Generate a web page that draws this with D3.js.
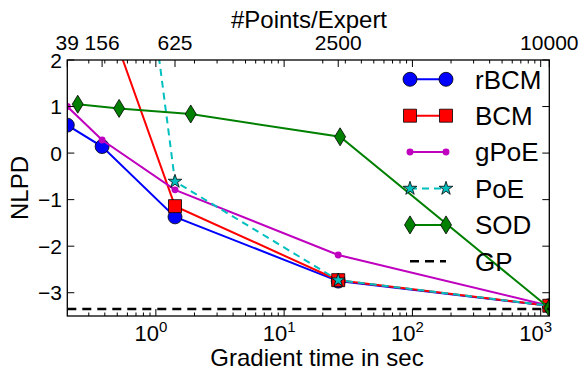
<!DOCTYPE html>
<html>
<head>
<meta charset="utf-8">
<script src="https://cdn.jsdelivr.net/npm/d3@7"></script>
<style>
  body { margin: 0; background: #fff; }
  svg text { font-family: "Liberation Sans", Arial, Helvetica, sans-serif; fill: #000; }
</style>
</head>
<body>
<div id="chart"></div>
<script>
// gradient time (sec) for each number of points per expert
const times = [0.204, 0.381, 1.41, 26.4, 1167];
const pointsPerExpert = [39, 156, 625, 2500, 10000];
const sodTimes = [0.246, 0.517, 1.87, 27.3, 1167];

const rbcm = [0.60, 0.14, -1.37, -2.75, -3.28];
const bcm = [7.0, 3.25, -1.14, -2.73, -3.28];
const gpoe = [1.0, 0.28, -0.79, -2.19, -3.28];
const poe = [20, 11.5, -0.61, -2.73, -3.28];
const sod = [1.05, 0.96, 0.84, 0.35, -3.33];
const gpValue = -3.35;

const yTicks = [2, 1, 0, -1, -2, -3];
const xDecades = [0, 1, 2, 3];

const width = 581, height = 372;
const mLeft = 67.3, mRight = 549.3, mTop = 60, mBottom = 316;

const svg = d3.select("#chart")
  .append("svg")
  .attr("width", width)
  .attr("height", height);

const x = d3.scaleLog().domain([times[0], times[4]]).range([mLeft, mRight]);
const y = d3.scaleLinear().domain([-3.5, 2]).range([mBottom, mTop]);

svg.append("clipPath").attr("id", "clip")
  .append("rect")
  .attr("x", mLeft).attr("y", mTop)
  .attr("width", mRight - mLeft).attr("height", mBottom - mTop);

// marker shapes
const diamond = "M0,-9L5.5,0L0,9L-5.5,0Z";
const series = [
  { name: "rBCM", t: times, v: rbcm, color: "#0000ff", marker: d3.symbol(d3.symbolCircle, 154)(), edge: true },
  { name: "BCM", t: times, v: bcm, color: "#ff0000", marker: d3.symbol(d3.symbolSquare, 169)(), edge: true },
  { name: "gPoE", t: times, v: gpoe, color: "#bf00bf", marker: d3.symbol(d3.symbolCircle, 38)(), edge: false },
  { name: "PoE", t: times, v: poe, color: "#00bfbf", marker: d3.symbol(d3.symbolStar, 58)(), edge: true, dash: "7,5" },
  { name: "SOD", t: sodTimes, v: sod, color: "#008000", marker: diamond, edge: true }
];

const plot = svg.append("g").attr("clip-path", "url(#clip)");
const line = d3.line().x(d => x(d[0])).y(d => y(d[1]));

series.forEach(s => {
  const pts = s.t.map((t, i) => [t, s.v[i]]);
  plot.append("path")
    .attr("d", line(pts))
    .attr("fill", "none")
    .attr("stroke", s.color)
    .attr("stroke-width", 2)
    .attr("stroke-dasharray", s.dash || null);
  plot.selectAll(null)
    .data(pts)
    .join("path")
    .attr("transform", d => `translate(${x(d[0])},${y(d[1])})`)
    .attr("d", s.marker)
    .attr("fill", s.color)
    .attr("stroke", s.edge ? "#000" : "none")
    .attr("stroke-width", 0.8);
});

// GP reference
plot.append("line")
  .attr("x1", mLeft).attr("x2", mRight)
  .attr("y1", y(gpValue)).attr("y2", y(gpValue))
  .attr("stroke", "#000")
  .attr("stroke-width", 2.5)
  .attr("stroke-dasharray", "9,6");

// frame
svg.append("rect")
  .attr("x", mLeft).attr("y", mTop)
  .attr("width", mRight - mLeft).attr("height", mBottom - mTop)
  .attr("fill", "none")
  .attr("stroke", "#000")
  .attr("stroke-width", 1.3);

// log minor ticks, mirrored on top
const minor = [];
for (let e = -1; e <= 3; e++) {
  for (let m = 2; m <= 9; m++) {
    const v = m * Math.pow(10, e);
    if (v > times[0] && v < times[4]) minor.push(v);
  }
}
const ticks = svg.append("g").attr("stroke", "#000").attr("stroke-width", 1);
minor.forEach(v => {
  ticks.append("line").attr("x1", x(v)).attr("x2", x(v)).attr("y1", mBottom).attr("y2", mBottom - 3.5);
  ticks.append("line").attr("x1", x(v)).attr("x2", x(v)).attr("y1", mTop).attr("y2", mTop + 3.5);
});
xDecades.forEach(d => {
  const px = x(Math.pow(10, d));
  ticks.append("line").attr("x1", px).attr("x2", px).attr("y1", mBottom).attr("y2", mBottom - 7);
  ticks.append("line").attr("x1", px).attr("x2", px).attr("y1", mTop).attr("y2", mTop + 7);
  const lab = svg.append("text")
    .attr("x", px - 5).attr("y", 341)
    .attr("text-anchor", "middle")
    .attr("font-size", 22);
  lab.append("tspan").text("10");
  lab.append("tspan").attr("dy", -9).attr("font-size", 15).text(d);
});
times.forEach((t, i) => {
  ticks.append("line").attr("x1", x(t)).attr("x2", x(t)).attr("y1", mTop).attr("y2", mTop + 7);
  svg.append("text")
    .attr("x", x(t)).attr("y", 50)
    .attr("text-anchor", "middle")
    .attr("font-size", 21)
    .text(pointsPerExpert[i]);
});
yTicks.forEach(v => {
  ticks.append("line").attr("x1", mLeft).attr("x2", mLeft + 7).attr("y1", y(v)).attr("y2", y(v));
  ticks.append("line").attr("x1", mRight).attr("x2", mRight - 7).attr("y1", y(v)).attr("y2", y(v));
  svg.append("text")
    .attr("x", 62).attr("y", y(v))
    .attr("dy", "0.36em")
    .attr("text-anchor", "end")
    .attr("font-size", 21)
    .text(v < 0 ? "\u2212" + Math.abs(v) : v);
});

// axis labels
svg.append("text")
  .attr("x", 317).attr("y", 366)
  .attr("text-anchor", "middle")
  .attr("font-size", 24)
  .text("Gradient time in sec");
svg.append("text")
  .attr("x", 309).attr("y", 28)
  .attr("text-anchor", "middle")
  .attr("font-size", 24)
  .text("#Points/Expert");
svg.append("text")
  .attr("transform", "translate(28,188) rotate(-90)")
  .attr("text-anchor", "middle")
  .attr("font-size", 24)
  .text("NLPD");

// legend
const legendItems = series.concat([{ name: "GP", color: "#000", dash: "9,6", gp: true }]);
const legend = svg.append("g");
legendItems.forEach((s, i) => {
  const ly = 79.3 + i * 36.4;
  const g = legend.append("g").attr("transform", `translate(0,${ly})`);
  g.append("line")
    .attr("x1", 410).attr("x2", 446)
    .attr("stroke", s.color)
    .attr("stroke-width", s.gp ? 2.5 : 2)
    .attr("stroke-dasharray", s.dash || null);
  if (!s.gp) {
    [410, 446].forEach(px => {
      g.append("path")
        .attr("transform", `translate(${px},0)`)
        .attr("d", s.marker)
        .attr("fill", s.color)
        .attr("stroke", s.edge ? "#000" : "none")
        .attr("stroke-width", 0.8);
    });
  }
  g.append("text")
    .attr("x", 475).attr("y", 0)
    .attr("dy", "0.36em")
    .attr("font-size", 26)
    .text(s.name);
});
</script>
</body>
</html>
